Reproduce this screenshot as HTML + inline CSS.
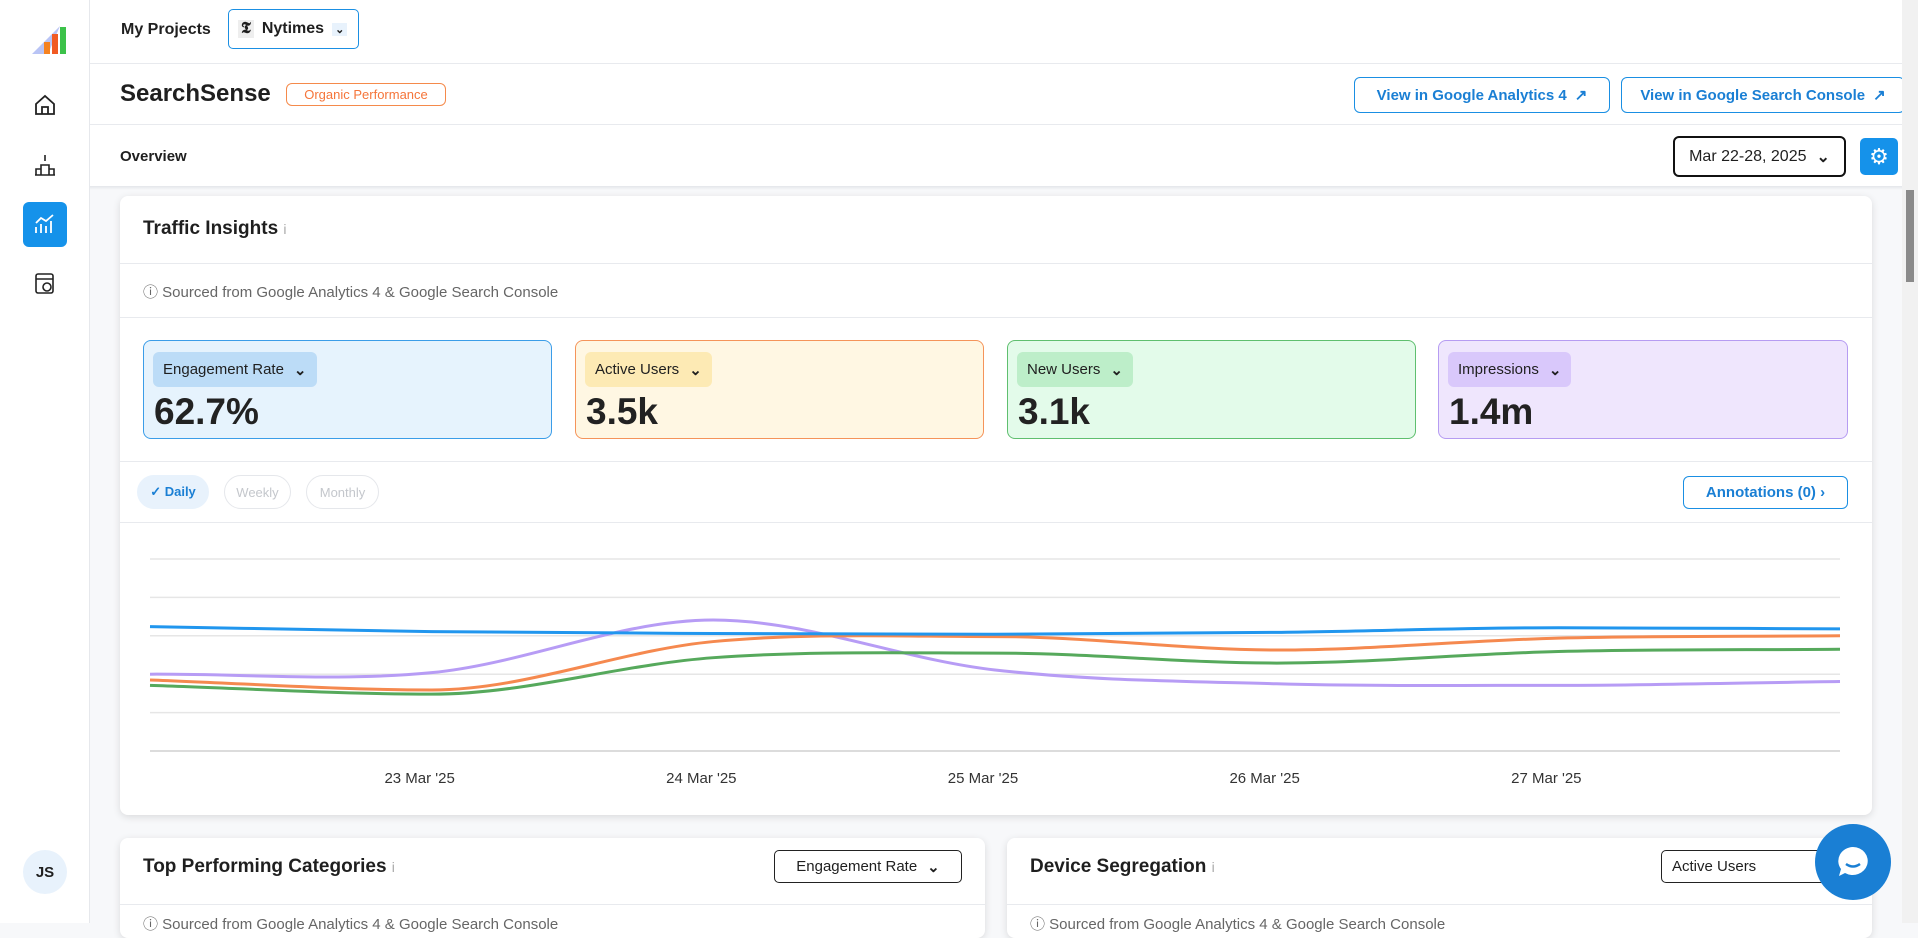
<!DOCTYPE html>
<html><head><meta charset="utf-8">
<style>
*{box-sizing:border-box;margin:0;padding:0}
body{width:1918px;height:923px;overflow:hidden;background:#f7f8fa;font-family:"Liberation Sans",sans-serif;color:#1f1f1f;position:relative}
.a{position:absolute}
.sb{left:0;top:0;width:90px;height:923px;background:#fff;border-right:1px solid #e6e8ec}
.btn{border:1px solid #1a8fe3;border-radius:6px;color:#1a7fd4;font-size:15px;font-weight:bold;display:flex;align-items:center;justify-content:center;gap:8px;background:#fff}
.card{background:#fff;border-radius:8px;box-shadow:0 2px 8px rgba(0,0,0,.12)}
.mbox{top:144px;height:99px;border-radius:8px;border:1px solid}
.pill{position:absolute;left:9px;top:11px;height:35px;border-radius:6px;font-size:15px;display:flex;align-items:center;padding:0 10px;gap:10px}
.val{position:absolute;left:10px;top:50px;font-size:37px;font-weight:bold;color:#222}
.hl{height:1px;background:#e8eaee}
.tp{border:1px solid #e5e7eb;border-radius:17px;font-size:13px;color:#c4c7cc;display:flex;align-items:center;justify-content:center}
</style></head><body>
<div class="a sb">
 <svg class="a" style="left:30px;top:24px" width="36" height="30"><polygon points="2,30 30,2 18,30" fill="#b9c4f5"/><rect x="14" y="18" width="6" height="12" fill="#f58220"/><rect x="22" y="10" width="6" height="20" fill="#f15a24"/><rect x="30" y="3" width="6" height="27" fill="#3cc24a"/></svg>
 <svg class="a" style="left:34px;top:94px" width="22" height="22"><path d="M2 10 L11 2 L20 10 V20 H2Z M8 20 V13 H14 V20" fill="none" stroke="#222" stroke-width="1.8"/></svg>
 <svg class="a" style="left:34px;top:153px" width="22" height="24"><path d="M11 2 v6 M7 22 V12 H15 V22 M2 22 V16 H7 M15 16 H20 V22 M1 22 H21" fill="none" stroke="#222" stroke-width="1.6"/></svg>
 <div class="a" style="left:23px;top:202px;width:44px;height:45px;background:#1592ea;border-radius:6px">
  <svg class="a" style="left:11px;top:11px" width="22" height="22"><path d="M2 20 V14 M7 20 V11 M12 20 V13 M17 20 V8 M2 10 L7 5 L12 8 L19 2" fill="none" stroke="#fff" stroke-width="1.8"/></svg></div>
 <svg class="a" style="left:34px;top:272px" width="22" height="24"><rect x="2" y="2" width="17" height="19" rx="2" fill="none" stroke="#222" stroke-width="1.6"/><line x1="2" y1="7" x2="19" y2="7" stroke="#222" stroke-width="1.6"/><circle cx="13" cy="15" r="4" fill="none" stroke="#222" stroke-width="1.6"/></svg>
 <div class="a" style="left:23px;top:850px;width:44px;height:44px;border-radius:50%;background:#e8f2fc;font-weight:bold;font-size:15px;display:flex;align-items:center;justify-content:center">JS</div>
</div>
<div class="a" style="left:90px;top:0;width:1812px;height:188px;background:#fff"></div>
<div class="a hl" style="left:90px;top:63px;width:1812px"></div>
<div class="a hl" style="left:90px;top:124px;width:1812px"></div>
<div class="a" style="left:90px;top:186px;width:1812px;height:4px;background:linear-gradient(#e4e6ea,#f7f8fa)"></div>
<div class="a" style="left:121px;top:21px;font-size:16px;font-weight:bold">My Projects</div>
<div class="a" style="left:228px;top:9px;width:131px;height:40px;border:1px solid #1a8fe3;border-radius:5px;display:flex;align-items:center;padding-left:9px;gap:8px;font-weight:bold;font-size:16px"><span style="background:#eee;font-family:'Liberation Serif';padding:0 3px">𝕿</span>Nytimes<span style="font-size:11px;background:#e8f2fc;padding:0 3px">⌄</span></div>
<div class="a" style="left:120px;top:80px;font-size:24px;font-weight:bold">SearchSense</div>
<div class="a" style="left:286px;top:83px;width:160px;height:23px;border:1px solid #f58a4b;border-radius:6px;color:#f5753a;font-size:13px;display:flex;align-items:center;justify-content:center">Organic Performance</div>
<div class="a btn" style="left:1354px;top:77px;width:256px;height:36px">View in Google Analytics 4 <span>↗</span></div>
<div class="a btn" style="left:1621px;top:77px;width:284px;height:36px">View in Google Search Console <span>↗</span></div>
<div class="a" style="left:120px;top:148px;font-size:15px;font-weight:bold">Overview</div>
<div class="a" style="left:1673px;top:136px;width:173px;height:41px;border:2px solid #111;border-radius:6px;font-size:16px;display:flex;align-items:center;justify-content:center;gap:10px">Mar 22-28, 2025 <b>⌄</b></div>
<div class="a" style="left:1860px;top:138px;width:38px;height:37px;background:#1592ea;border-radius:5px;color:#fff;font-size:22px;display:flex;align-items:center;justify-content:center">⚙</div>
<div class="a" style="left:1902px;top:0;width:16px;height:923px;background:#f1f1f1"><div class="a" style="left:4px;top:190px;width:8px;height:92px;background:#8a8a8a"></div></div>

<div class="a card" style="left:120px;top:196px;width:1752px;height:619px">
 <div class="a" style="left:23px;top:22px;font-size:19px;font-weight:bold">Traffic Insights <span style="color:#aaa;font-weight:normal;font-size:14px">i</span></div>
 <div class="a hl" style="left:0;top:67px;width:1752px"></div>
 <div class="a" style="left:23px;top:85px;font-size:15px;color:#666">ⓘ Sourced from Google Analytics 4 &amp; Google Search Console</div>
 <div class="a hl" style="left:0;top:121px;width:1752px"></div>
 <div class="a mbox" style="left:23px;width:409px;background:#e6f3fd;border-color:#3b9de8"><div class="pill" style="background:#bcdcf7">Engagement Rate <b>⌄</b></div><div class="val">62.7%</div></div>
 <div class="a mbox" style="left:455px;width:409px;background:#fff7e3;border-color:#f5945a"><div class="pill" style="background:#fdeab4">Active Users <b>⌄</b></div><div class="val">3.5k</div></div>
 <div class="a mbox" style="left:887px;width:409px;background:#e3fbea;border-color:#5fbf6f"><div class="pill" style="background:#bdeec9">New Users <b>⌄</b></div><div class="val">3.1k</div></div>
 <div class="a mbox" style="left:1318px;width:410px;background:#efe6fd;border-color:#b69cf2"><div class="pill" style="background:#d9c8fb">Impressions <b>⌄</b></div><div class="val">1.4m</div></div>
 <div class="a hl" style="left:0;top:265px;width:1752px"></div>
 <div class="a tp" style="left:17px;top:279px;width:72px;height:34px;background:#e8f2fc;border-color:#e8f2fc;color:#1a7fd4;font-weight:bold">✓ Daily</div>
 <div class="a tp" style="left:104px;top:279px;width:67px;height:34px">Weekly</div>
 <div class="a tp" style="left:186px;top:279px;width:73px;height:34px">Monthly</div>
 <div class="a btn" style="left:1563px;top:280px;width:165px;height:33px;font-size:15px">Annotations (0) ›</div>
 <div class="a hl" style="left:0;top:326px;width:1752px"></div>
</div>
<svg class="a" id="chart" style="left:0;top:0" width="1918" height="830"></svg>

<div class="a card" style="left:120px;top:838px;width:865px;height:100px">
 <div class="a" style="left:23px;top:18px;font-size:19px;font-weight:bold">Top Performing Categories <span style="color:#aaa;font-weight:normal;font-size:14px">i</span></div>
 <div class="a" style="left:654px;top:12px;width:188px;height:33px;border:1px solid #222;border-radius:5px;font-size:15px;display:flex;align-items:center;justify-content:center;gap:10px">Engagement Rate <b>⌄</b></div>
 <div class="a hl" style="left:0;top:66px;width:865px"></div>
 <div class="a" style="left:23px;top:75px;font-size:15px;color:#666">ⓘ Sourced from Google Analytics 4 &amp; Google Search Console</div>
</div>
<div class="a card" style="left:1007px;top:838px;width:865px;height:100px">
 <div class="a" style="left:23px;top:18px;font-size:19px;font-weight:bold">Device Segregation <span style="color:#aaa;font-weight:normal;font-size:14px">i</span></div>
 <div class="a" style="left:654px;top:12px;width:180px;height:33px;border:1px solid #222;border-radius:5px;font-size:15px;display:flex;align-items:center;padding-left:10px">Active Users</div>
 <div class="a hl" style="left:0;top:66px;width:865px"></div>
 <div class="a" style="left:23px;top:75px;font-size:15px;color:#666">ⓘ Sourced from Google Analytics 4 &amp; Google Search Console</div>
</div>
<div class="a" style="left:1815px;top:824px;width:76px;height:76px;border-radius:50%;background:#1a7fd4;display:flex;align-items:center;justify-content:center"><svg width="38" height="38"><path d="M19 4a15 14 0 1 1-8 26l-6 3 2-7A15 14 0 0 1 19 4z" fill="#fff"/><path d="M12 21q7 5 14 0" stroke="#1a7fd4" stroke-width="2.5" fill="none"/></svg></div>

<script>
const categories=["22 Mar '25","23 Mar '25","24 Mar '25","25 Mar '25","26 Mar '25","27 Mar '25","28 Mar '25"];
const engagementRate=[3.24,3.11,3.06,3.04,3.09,3.21,3.18];
const activeUsers=[1.85,1.59,2.85,2.98,2.63,2.94,3.0];
const newUsers=[1.71,1.48,2.43,2.55,2.29,2.59,2.65];
const impressions=[2.0,2.04,3.41,2.11,1.75,1.71,1.81];
const yTicks=[0,1,2,3,4,5];
const NS='http://www.w3.org/2000/svg';
const svg=document.getElementById('chart');
const X0=150,X1=1840,Y0=751,Y1=559,YMAX=5;
const xs=i=>X0+(X1-X0)*i/(categories.length-1);
const ys=v=>Y0-(Y0-Y1)*v/YMAX;
function mk(t,a){const e=document.createElementNS(NS,t);for(const k in a)e.setAttribute(k,a[k]);svg.appendChild(e);return e;}
yTicks.forEach(t=>{const l=mk('line',{x1:X0,x2:X1,y1:ys(t),y2:ys(t),stroke:t===0?'#dcdcdc':'#e6e6e6','stroke-width':t===0?2:1.5});

});
categories.forEach((c,i)=>{if(i===0||i===categories.length-1)return;const t=mk('text',{x:xs(i)-12,y:783,'text-anchor':'middle','font-size':15,fill:'#333','font-family':'Liberation Sans, sans-serif'});t.textContent=c;

});
function path(vals){const p=vals.map((v,i)=>[xs(i),ys(v)]);const n=p.length;const d=[],m=[];
for(let i=0;i<n-1;i++)d.push((p[i+1][1]-p[i][1])/(p[i+1][0]-p[i][0]));
for(let i=0;i<n;i++){if(i===0)m.push(d[0]);else if(i===n-1)m.push(d[n-2]);else m.push(d[i-1]*d[i]<=0?0:(d[i-1]+d[i])/2);}
let s='M'+p[0][0]+' '+p[0][1];
for(let i=0;i<n-1;i++){const h=(p[i+1][0]-p[i][0])/3;s+=` C${p[i][0]+h} ${p[i][1]+m[i]*h} ${p[i+1][0]-h} ${p[i+1][1]-m[i+1]*h} ${p[i+1][0]} ${p[i+1][1]}`;}
return s;}
[[impressions,'#b79cf5','impressions-line'],[newUsers,'#56a95c','new-users-line'],[activeUsers,'#f5894f','active-users-line'],[engagementRate,'#2196ee','engagement-rate-line']].forEach(([v,c,n])=>{
const e=mk('path',{d:path(v),fill:'none',stroke:c,'stroke-width':3});

});
</script>
</body></html>
